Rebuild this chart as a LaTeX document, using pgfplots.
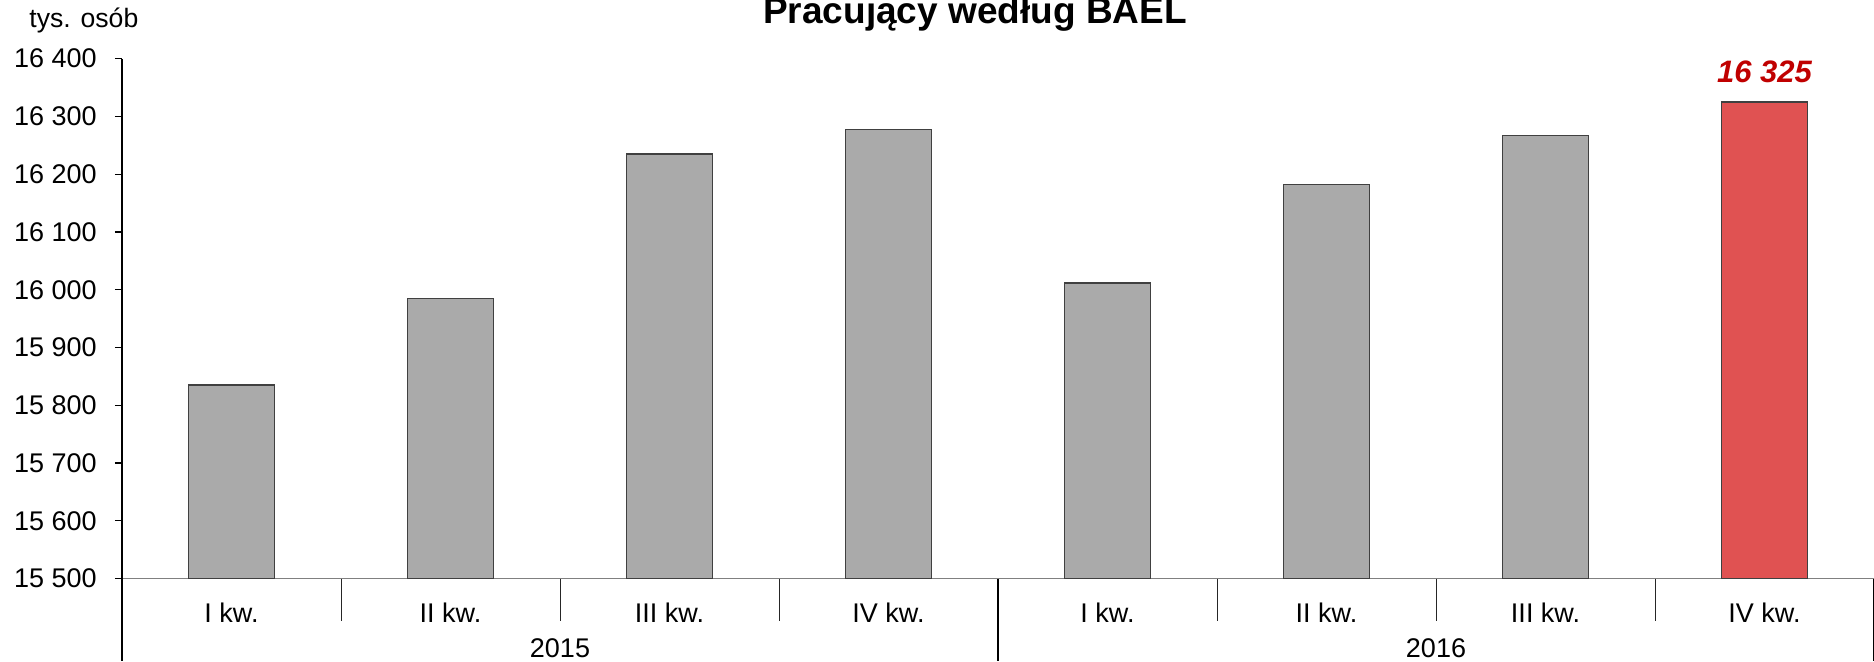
\documentclass[border=0pt]{standalone}
\usepackage{fontspec}
\setmainfont{Liberation Sans}
\usepackage{pgfplots}
\pgfplotsset{compat=1.18}
\definecolor{bargray}{RGB}{170,170,170}
\definecolor{baredge}{RGB}{64,64,64}
\definecolor{barred}{RGB}{224,82,82}
\definecolor{labred}{RGB}{192,0,0}
\begin{document}
\begin{tikzpicture}
\begin{axis}[
  name=ax,
  at={(0,0)}, anchor=south west,
  scale only axis, width=876pt, height=260pt,
  xmin=0.5, xmax=8.5, ymin=15500, ymax=16400,
  ytick={15500,15600,15700,15800,15900,16000,16100,16200,16300,16400},
  scaled y ticks=false,
  xtick={1,2,3,4,5,6,7,8},
  xticklabels={I kw., II kw., III kw., IV kw., I kw., II kw., III kw., IV kw.},
  axis x line*=bottom, axis y line*=left,
  x axis line style={draw=gray, line width=0.7pt},
  y axis line style={draw=black, line width=0.6pt},
  tick align=outside,
  major tick length=3.5pt,
  x tick style={draw=none},
  y tick style={draw=black, line width=0.6pt},
  /pgf/number format/.cd, fixed, precision=0, 1000 sep={\ }, assume math mode=true,
  /pgfplots/.cd,
  yticklabel style={font=\fontsize{13.5}{16}\selectfont, anchor=east, inner sep=0pt, xshift=-9pt},
  xticklabel style={font=\fontsize{13.5}{16}\selectfont, anchor=base, inner sep=0pt, yshift=-18.25pt},
]
\addplot[ybar, bar width=43pt, bar shift=0pt, fill=bargray, draw=baredge, line width=0.8pt]
  coordinates {(1,15835) (2,15985) (3,16235) (4,16277) (5,16012) (6,16182) (7,16267)};
\addplot[ybar, bar width=43pt, bar shift=0pt, fill=barred, draw=baredge, line width=0.8pt,
  nodes near coords,
  nodes near coords style={font=\fontsize{15.5}{18}\selectfont\bfseries\itshape, text=labred, anchor=base, inner sep=0pt, yshift=9.5pt}]
  coordinates {(8,16325)};
\end{axis}
% separators
\foreach \k in {1,2,3,5,6,7} {
  \draw[black!85, line width=0.5pt] (\k*109.5pt,0) -- (\k*109.5pt,-21.2pt);
}
\foreach \k in {0,4,8} {
  \draw[black, line width=0.6pt] (\k*109.5pt,0) -- (\k*109.5pt,-41.25pt);
}
\node[anchor=base, inner sep=0pt, font=\fontsize{13.5}{16}\selectfont] at (219pt,-39.25pt) {2015};
\node[anchor=base, inner sep=0pt, font=\fontsize{13.5}{16}\selectfont] at (657pt,-39.25pt) {2016};
\node[anchor=base west, inner sep=0pt, font=\fontsize{13.3}{16}\selectfont] at (-46.5pt,275.8pt) {tys. osób};
\node[anchor=base, inner sep=0pt, font=\fontsize{18.5}{22}\selectfont\bfseries] at (426.5pt,277.8pt) {Pracujący według BAEL};
\pgfresetboundingbox
\useasboundingbox (-61pt,-41.25pt) rectangle (876pt,289.3pt);
\end{tikzpicture}
\end{document}
